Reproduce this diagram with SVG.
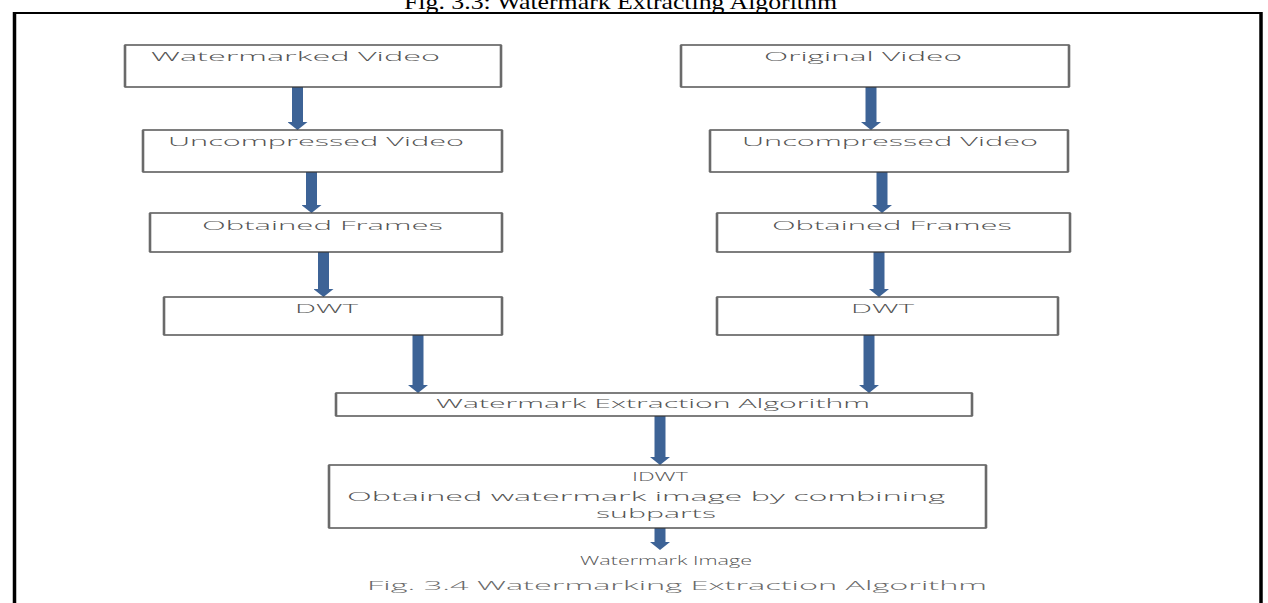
<svg xmlns="http://www.w3.org/2000/svg" width="1268" height="603" viewBox="0 0 1268 603">
<defs>
<style>
.box{fill:#fff;stroke:#3a3a3a;stroke-width:1.3}
.edge{stroke:#6a6a6a;stroke-width:2.6}
.lbl{font-family:"Open Sans","DejaVu Sans",sans-serif;font-size:13px;font-weight:300;fill:#555}
.cap{fill:#6a6a6a}
.title{font-family:"Liberation Serif","Times New Roman",serif;font-size:22px;fill:#000}
.arr{stroke:#3d6396;stroke-width:11;fill:none}
</style>
<marker id="ah" viewBox="0 0 8 20" refX="0" refY="10" markerWidth="8" markerHeight="20" markerUnits="userSpaceOnUse" orient="auto">
<path d="M0,0 L8,10 L0,20 z" fill="#3d6396"/>
</marker>
</defs>
<rect width="1268" height="603" fill="#fff"/>
<text class="title" x="404" y="9" textLength="433" lengthAdjust="spacingAndGlyphs">Fig. 3.3: Watermark Extracting Algorithm</text>
<g id="frame" fill="none" stroke="#000">
<line x1="13" y1="13" x2="1262" y2="13" stroke-width="2"/>
<line x1="14.5" y1="12" x2="14.5" y2="603" stroke-width="3.5"/>
<line x1="1261" y1="12" x2="1261" y2="603" stroke-width="3.5"/>
</g>
<g id="connectors">
<line class="arr" x1="297.5" y1="87" x2="297.5" y2="122" marker-end="url(#ah)"/>
<line class="arr" x1="311.5" y1="172" x2="311.5" y2="205" marker-end="url(#ah)"/>
<line class="arr" x1="323.5" y1="252" x2="323.5" y2="289" marker-end="url(#ah)"/>
<line class="arr" x1="418" y1="335" x2="418" y2="385" marker-end="url(#ah)"/>
<line class="arr" x1="871" y1="87" x2="871" y2="122" marker-end="url(#ah)"/>
<line class="arr" x1="882" y1="172" x2="882" y2="205" marker-end="url(#ah)"/>
<line class="arr" x1="879" y1="252" x2="879" y2="289" marker-end="url(#ah)"/>
<line class="arr" x1="869" y1="335" x2="869" y2="385" marker-end="url(#ah)"/>
<line class="arr" x1="660" y1="416" x2="660" y2="457" marker-end="url(#ah)"/>
<line class="arr" x1="660" y1="528" x2="660" y2="542" marker-end="url(#ah)"/>
</g>
<g id="n-watermarked-video">
<rect class="box" x="125" y="45" width="376" height="42"/>
<line class="edge" x1="125" y1="45" x2="125" y2="87"/><line class="edge" x1="501" y1="45" x2="501" y2="87"/>
<text class="lbl" x="151" y="61" textLength="289" lengthAdjust="spacingAndGlyphs">Watermarked Video</text>
</g>
<g id="n-original-video">
<rect class="box" x="681" y="45" width="388" height="42"/>
<line class="edge" x1="681" y1="45" x2="681" y2="87"/><line class="edge" x1="1069" y1="45" x2="1069" y2="87"/>
<text class="lbl" x="764" y="61" textLength="198" lengthAdjust="spacingAndGlyphs">Original Video</text>
</g>
<g id="n-uncompressed-left">
<rect class="box" x="143" y="130" width="359" height="42"/>
<line class="edge" x1="143" y1="130" x2="143" y2="172"/><line class="edge" x1="502" y1="130" x2="502" y2="172"/>
<text class="lbl" x="168" y="146" textLength="296" lengthAdjust="spacingAndGlyphs">Uncompressed Video</text>
</g>
<g id="n-uncompressed-right">
<rect class="box" x="710" y="130" width="358" height="42"/>
<line class="edge" x1="710" y1="130" x2="710" y2="172"/><line class="edge" x1="1068" y1="130" x2="1068" y2="172"/>
<text class="lbl" x="742" y="146" textLength="296" lengthAdjust="spacingAndGlyphs">Uncompressed Video</text>
</g>
<g id="n-frames-left">
<rect class="box" x="150" y="213" width="352" height="39"/>
<line class="edge" x1="150" y1="213" x2="150" y2="252"/><line class="edge" x1="502" y1="213" x2="502" y2="252"/>
<text class="lbl" x="202" y="230" textLength="241" lengthAdjust="spacingAndGlyphs">Obtained Frames</text>
</g>
<g id="n-frames-right">
<rect class="box" x="717" y="213" width="353" height="39"/>
<line class="edge" x1="717" y1="213" x2="717" y2="252"/><line class="edge" x1="1070" y1="213" x2="1070" y2="252"/>
<text class="lbl" x="772" y="230" textLength="240" lengthAdjust="spacingAndGlyphs">Obtained Frames</text>
</g>
<g id="n-dwt-left">
<rect class="box" x="164" y="297" width="338" height="38"/>
<line class="edge" x1="164" y1="297" x2="164" y2="335"/><line class="edge" x1="502" y1="297" x2="502" y2="335"/>
<text class="lbl" x="295" y="313" textLength="63" lengthAdjust="spacingAndGlyphs">DWT</text>
</g>
<g id="n-dwt-right">
<rect class="box" x="717" y="297" width="341" height="38"/>
<line class="edge" x1="717" y1="297" x2="717" y2="335"/><line class="edge" x1="1058" y1="297" x2="1058" y2="335"/>
<text class="lbl" x="851" y="313" textLength="63" lengthAdjust="spacingAndGlyphs">DWT</text>
</g>
<g id="n-extraction">
<rect class="box" x="336" y="393" width="636" height="23"/>
<line class="edge" x1="336" y1="393" x2="336" y2="416"/><line class="edge" x1="972" y1="393" x2="972" y2="416"/>
<text class="lbl" x="436" y="408" textLength="434" lengthAdjust="spacingAndGlyphs">Watermark Extraction Algorithm</text>
</g>
<g id="n-idwt">
<rect class="box" x="329" y="465" width="657" height="63"/>
<line class="edge" x1="329" y1="465" x2="329" y2="528"/><line class="edge" x1="986" y1="465" x2="986" y2="528"/>
<text class="lbl" x="632" y="481" textLength="56" lengthAdjust="spacingAndGlyphs">IDWT</text>
<text class="lbl" x="347" y="501" textLength="598" lengthAdjust="spacingAndGlyphs">Obtained watermark image by combining</text>
<text class="lbl" x="596" y="518" textLength="120" lengthAdjust="spacingAndGlyphs">subparts</text>
</g>
<g id="n-watermark-image">
<text class="lbl" x="580" y="565" textLength="172" lengthAdjust="spacingAndGlyphs">Watermark Image</text>
</g>
<text class="lbl cap" x="367" y="590" textLength="620" lengthAdjust="spacingAndGlyphs">Fig. 3.4 Watermarking Extraction Algorithm</text>
</svg>
